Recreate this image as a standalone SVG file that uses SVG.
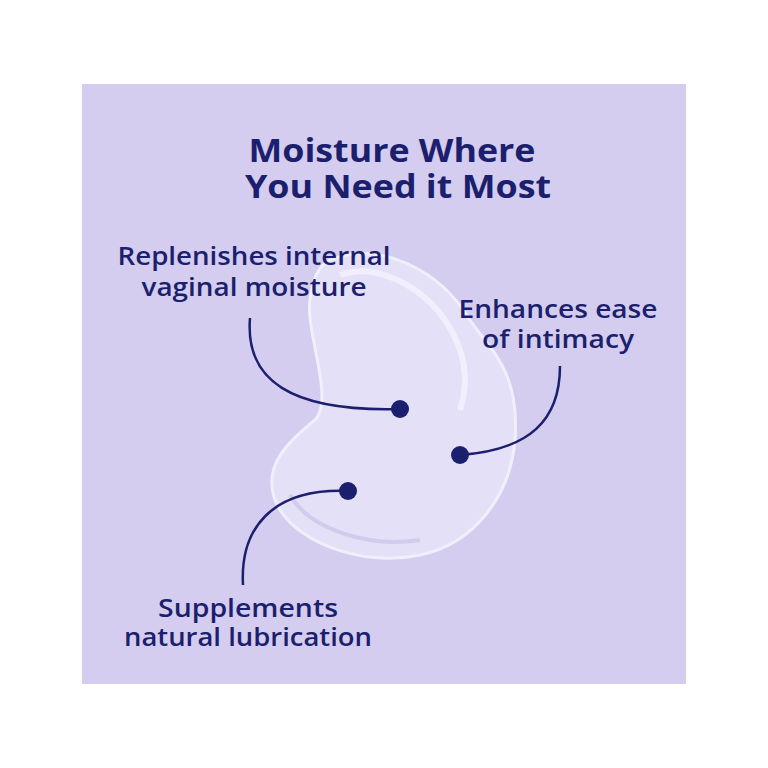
<svg xmlns="http://www.w3.org/2000/svg" width="768" height="768" viewBox="0 0 768 768">
<style>
.t{font-family:"Open Sans","Liberation Sans",sans-serif;font-weight:600;fill:#1b1f6e;text-anchor:middle}
.h{font-size:33px;font-weight:700}
.l{font-size:25px}
.c{fill:none;stroke:#1b1f6e;stroke-width:2.5}
.d{fill:#1b1f6e}
</style>
<rect width="768" height="768" fill="#fff"/>
<rect x="82" y="84" width="604" height="600" fill="#d4cdef"/>
<g id="gel">
<path d="M330 260 C380 240 440 270 470 320 C490 350 520 370 515 440 C510 500 470 545 420 555 C360 568 290 540 275 500 C262 465 290 440 315 420 C335 400 305 330 310 300 C312 280 318 266 330 260 Z" fill="#e4e0f7" stroke="#f1effb" stroke-width="3"/>
<path d="M340 275 C375 262 420 285 445 320 C465 350 470 380 460 410" fill="none" stroke="#f4f2fd" stroke-width="6" opacity="0.8"/>
<path d="M290 495 C310 530 370 548 420 540" fill="none" stroke="#c9c3e6" stroke-width="4" opacity="0.7"/>
</g>
<g id="title"><text class="t h" x="392" y="162" textLength="287" lengthAdjust="spacingAndGlyphs">Moisture Where</text><text class="t h" x="398" y="198" textLength="306" lengthAdjust="spacingAndGlyphs">You Need it Most</text></g>
<g id="n1"><text class="t l" x="254" y="265" textLength="273" lengthAdjust="spacingAndGlyphs">Replenishes internal</text><text class="t l" x="254" y="296" textLength="225" lengthAdjust="spacingAndGlyphs">vaginal moisture</text></g>
<g id="n2"><text class="t l" x="558" y="318" textLength="199" lengthAdjust="spacingAndGlyphs">Enhances ease</text><text class="t l" x="558" y="348" textLength="152" lengthAdjust="spacingAndGlyphs">of intimacy</text></g>
<g id="n3"><text class="t l" x="248" y="617" textLength="180" lengthAdjust="spacingAndGlyphs">Supplements</text><text class="t l" x="248" y="646" textLength="248" lengthAdjust="spacingAndGlyphs">natural lubrication</text></g>
<g id="connectors">
<path class="c" d="M250 318 C245 380 290 412 400 409"/>
<circle class="d" cx="400" cy="409" r="9"/>
<path class="c" d="M560 366 C560 420 530 450 460 455"/>
<circle class="d" cx="460" cy="455" r="9"/>
<path class="c" d="M243 585 C240 530 270 488 348 491"/>
<circle class="d" cx="348" cy="491" r="9"/>
</g>
</svg>
